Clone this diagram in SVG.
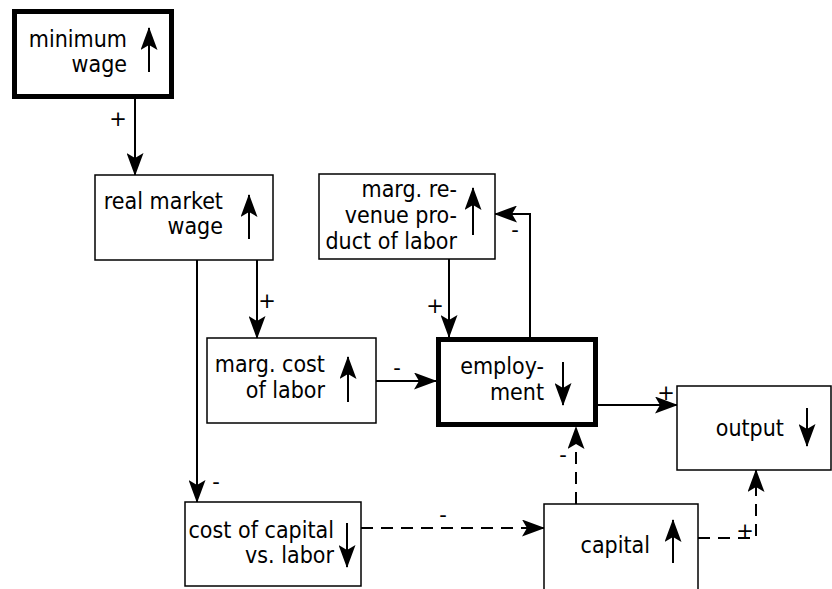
<svg xmlns="http://www.w3.org/2000/svg" width="832" height="589" viewBox="0 0 832 589">
<style>
.box{fill:#fff;stroke:#000;stroke-width:1.5}
.thick{fill:#fff;stroke:#000;stroke-width:5}
.t{font-family:"DejaVu Sans",sans-serif;font-size:20.7px;fill:#000;text-anchor:end}
.lbl{font-family:"DejaVu Sans",sans-serif;font-size:21px;fill:#000;text-anchor:middle}
.c{fill:none;stroke:#000;stroke-width:2;marker-end:url(#ah)}
.d{stroke-dasharray:12 8}
.ind{fill:none;stroke:#000;stroke-width:2;marker-end:url(#ah)}
</style>
<defs>
<marker id="ah" markerUnits="userSpaceOnUse" viewBox="0 0 23 17" markerWidth="23" markerHeight="17" refX="22" refY="8.5" orient="auto">
<path d="M0,0 L23,8.5 L0,17 L5,8.5 z" fill="#000"/>
</marker>
</defs>
<rect width="832" height="589" fill="#fff"/>
<g id="connectors">
<path class="c" d="M135,99 L135,175"/>
<path class="c" d="M257,260 L257,338"/>
<path class="c" d="M197,260 L197,502"/>
<path class="c" d="M449,259 L449,337"/>
<path class="c" d="M530,337 L530,214 L495,214"/>
<path class="c" d="M376,381 L436,381"/>
<path class="c" d="M598,405 L677,405"/>
<path class="c d" d="M361,528 L544,528"/>
<path class="c d" d="M576,504 L576,427"/>
<path class="c d" d="M698,538 L756,538 L756,470"/>
<text class="lbl" x="118" y="126">+</text>
<text class="lbl" x="267" y="308">+</text>
<text class="lbl" x="216" y="489">-</text>
<text class="lbl" x="435" y="313">+</text>
<text class="lbl" x="515" y="237">-</text>
<text class="lbl" x="397" y="375">-</text>
<text class="lbl" x="666" y="400">+</text>
<text class="lbl" x="443" y="522">-</text>
<text class="lbl" x="563" y="462">-</text>
<text class="lbl" x="745" y="538">+</text>
</g>
<g id="minimum-wage">
<rect class="thick" x="14.5" y="11.5" width="157" height="85"/>
<text class="t" x="127" y="43.18" transform="scale(1,1.1)">minimum</text>
<text class="t" x="127" y="65.45" transform="scale(1,1.1)">wage</text>
<path class="ind" d="M149,72 L149,28"/>
</g>
<g id="real-market-wage">
<rect class="box" x="95" y="175" width="178" height="85"/>
<text class="t" x="223" y="190" transform="scale(1,1.1)">real market</text>
<text class="t" x="223" y="212.73" transform="scale(1,1.1)">wage</text>
<path class="ind" d="M249,239 L249,195"/>
</g>
<g id="mrp">
<rect class="box" x="319" y="174" width="176" height="85"/>
<text class="t" x="457" y="179.09" transform="scale(1,1.1)">marg. re-</text>
<text class="t" x="457" y="202.73" transform="scale(1,1.1)">venue pro-</text>
<text class="t" x="457" y="226.36" transform="scale(1,1.1)">duct of labor</text>
<path class="ind" d="M473,235 L473,188"/>
</g>
<g id="marg-cost">
<rect class="box" x="207" y="338" width="169" height="85"/>
<text class="t" x="325" y="338.18" transform="scale(1,1.1)">marg. cost</text>
<text class="t" x="325" y="361.82" transform="scale(1,1.1)">of labor</text>
<path class="ind" d="M348,402 L348,357"/>
</g>
<g id="employment">
<rect class="thick" x="438.5" y="339.5" width="157" height="85"/>
<text class="t" x="544" y="340" transform="scale(1,1.1)">employ-</text>
<text class="t" x="544" y="363.64" transform="scale(1,1.1)">ment</text>
<path class="ind" d="M563,362 L563,405"/>
</g>
<g id="output">
<rect class="box" x="677" y="386" width="154" height="84"/>
<text class="t" x="784" y="396.36" transform="scale(1,1.1)">output</text>
<path class="ind" d="M807,408 L807,446"/>
</g>
<g id="cost-of-capital">
<rect class="box" x="185" y="502" width="176" height="84"/>
<text class="t" x="334" y="489.09" transform="scale(1,1.1)">cost of capital</text>
<text class="t" x="334" y="511.82" transform="scale(1,1.1)">vs. labor</text>
<path class="ind" d="M347,523 L347,567"/>
</g>
<g id="capital">
<rect class="box" x="544" y="504" width="154" height="100"/>
<text class="t" x="650" y="502.73" transform="scale(1,1.1)">capital</text>
<path class="ind" d="M673,563 L673,520"/>
</g>
</svg>
